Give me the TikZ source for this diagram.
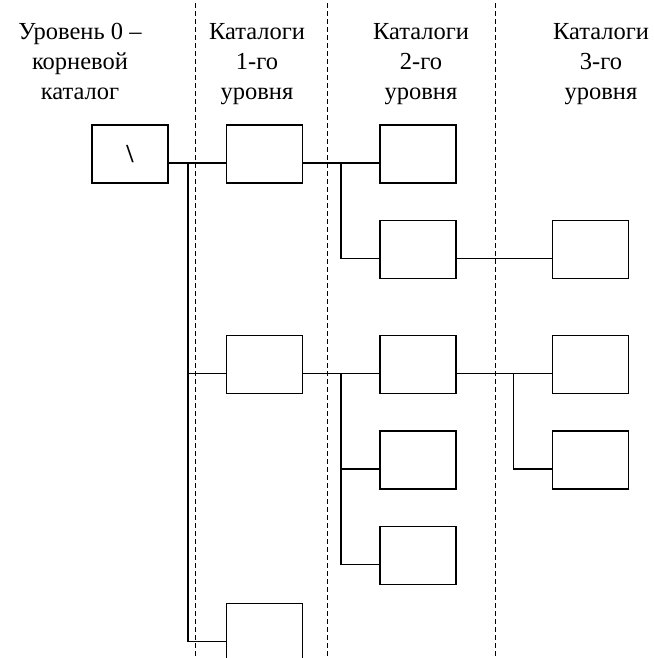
\documentclass[tikz,border=0pt]{standalone}
\usepackage{fontspec}
\setmainfont{Liberation Serif}
\newfontfamily\hdrfont{Liberation Serif}
\begin{document}
\begin{tikzpicture}[x=1pt,y=-1pt,
  box/.style={draw, minimum width=76pt, minimum height=58pt, inner sep=0pt, line width=1.1pt},
  hdr/.style={font=\hdrfont\fontsize{24.5}{30}\selectfont, align=center, anchor=base, inner sep=0pt},
  sepline/.style={dash pattern=on 5pt off 3pt, line width=1pt},
  conn/.style={line width=1.1pt}]
\useasboundingbox (0,0) rectangle (653,658);
% headers
\node[hdr] (h0) at (80,100) {Уровень 0 –\\корневой\\каталог};
\node[hdr] (h1) at (257,100) {Каталоги\\1-го\\уровня};
\node[hdr] (h2) at (421,100) {Каталоги\\2-го\\уровня};
\node[hdr] (h3) at (601,100) {Каталоги\\3-го\\уровня};
% dashed separators
\coordinate (s1t) at (195,3);   \coordinate (s1b) at (195,658);
\coordinate (s2t) at (327.5,3); \coordinate (s2b) at (327.5,658);
\coordinate (s3t) at (495,3);   \coordinate (s3b) at (495,658);
\draw[sepline] (s1t) -- (s1b);
\draw[sepline] (s2t) -- (s2b);
\draw[sepline] (s3t) -- (s3b);
% boxes
\node[box] (root) at (130,154) {\hdrfont\fontsize{26}{28}\selectfont\bfseries\textbackslash};
\node[box] (L1a) at (264.5,154) {};
\node[box] (L1b) at (264.5,364.3) {};
\node[box] (L1c) at (264.5,632.7) {};
\node[box] (L2a) at (418,154) {};
\node[box] (L2b) at (418,249.5) {};
\node[box] (L2c) at (418,364.3) {};
\node[box] (L2d) at (418,460) {};
\node[box] (L2e) at (418,555.7) {};
\node[box] (L3a) at (590.5,249.5) {};
\node[box] (L3b) at (590.5,364.3) {};
\node[box] (L3c) at (590.5,460) {};
\foreach \n in {root,L1a,L1b,L1c,L2a,L2b,L2c,L2d,L2e,L3a,L3b,L3c}{
  \coordinate (\n-o) at ([yshift=-9pt]\n.east);
  \coordinate (\n-i) at ([yshift=-9pt]\n.west);
}
\coordinate (tr) at (188,0);
\coordinate (b1) at (341,0);
\coordinate (b2) at (341,0);
\coordinate (b3) at (513.7,0);
% connectors
\draw[conn] (root-o) -- (L1a-i);
\draw[conn] (root-o -| tr) |- (L1c-i);
\draw[conn] (L1b-i -| tr) -- (L1b-i);
\draw[conn] (L1a-o) -- (L2a-i);
\draw[conn] (L1a-o -| b1) |- (L2b-i);
\draw[conn] (L2b-o) -- (L3a-i);
\draw[conn] (L1b-o) -- (L2c-i);
\draw[conn] (L1b-o -| b2) |- (L2e-i);
\draw[conn] (L2d-i -| b2) -- (L2d-i);
\draw[conn] (L2c-o) -- (L3b-i);
\draw[conn] (L2c-o -| b3) |- (L3c-i);
\end{tikzpicture}
\end{document}
